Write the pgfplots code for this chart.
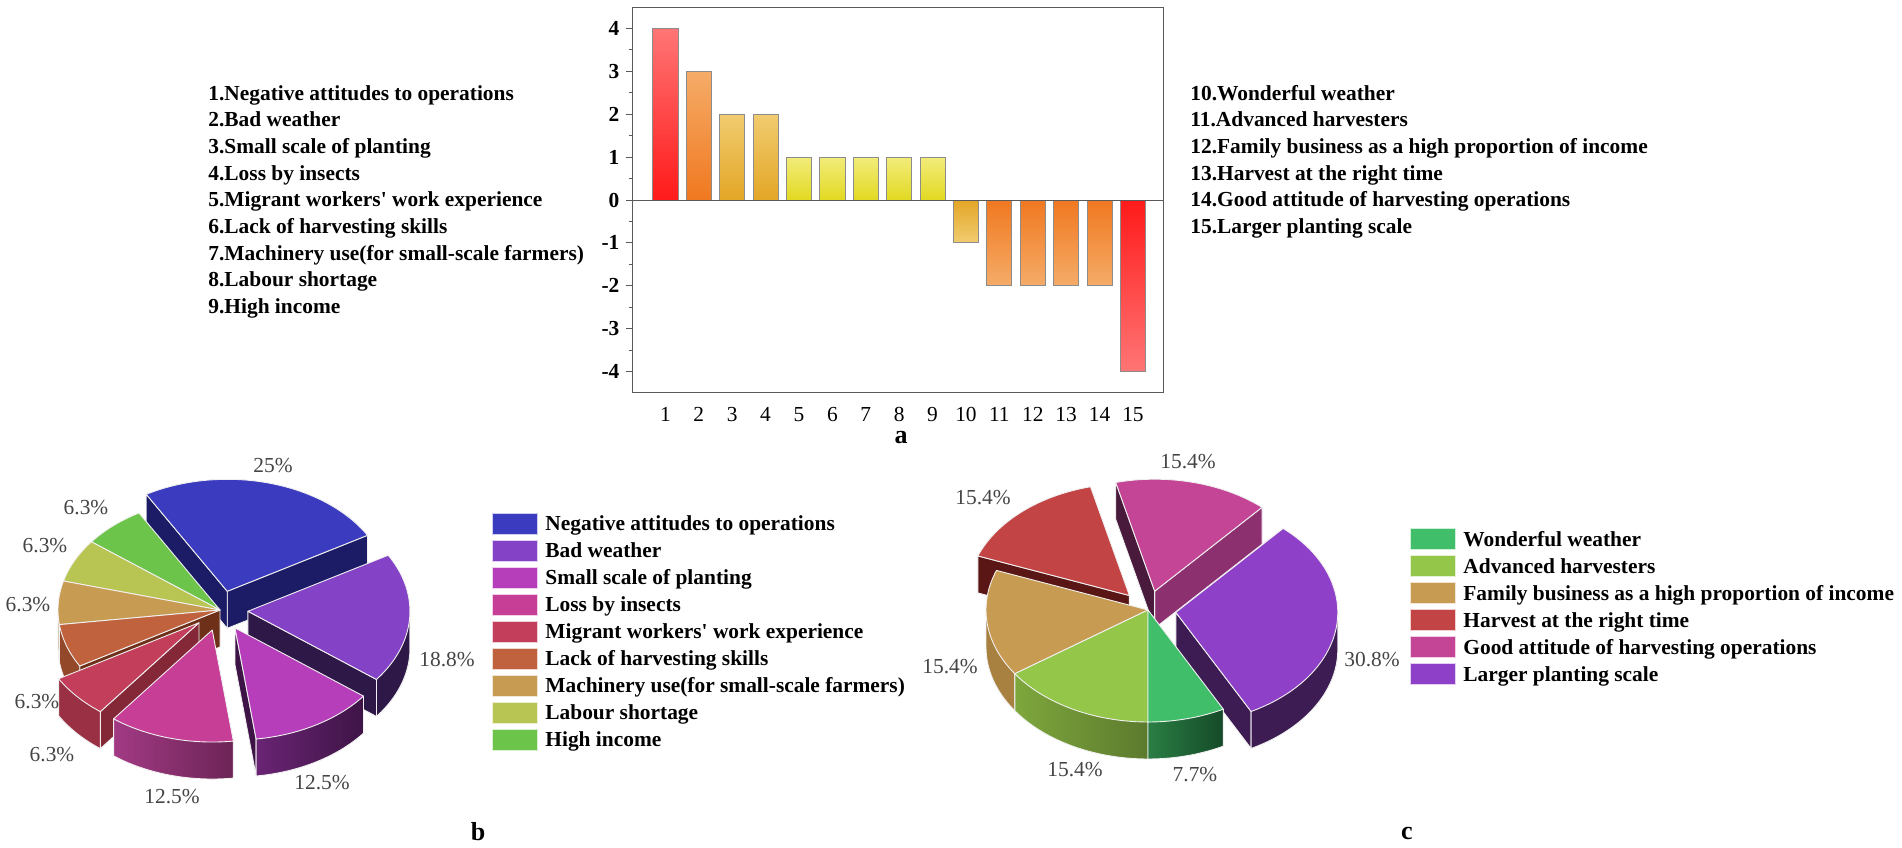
\documentclass[border=0pt]{standalone}
\usepackage{fontspec}
\setmainfont{Liberation Serif}
\usepackage{pgfplots}
\pgfplotsset{compat=1.18}

% bar colours (saturated near zero, light at the far end)
\definecolor{redS}{HTML}{FF1A1A}\definecolor{redL}{HTML}{FF7575}
\definecolor{oraS}{HTML}{F07820}\definecolor{oraL}{HTML}{F5AC68}
\definecolor{golS}{HTML}{E3A626}\definecolor{golL}{HTML}{F1CC70}
\definecolor{yelS}{HTML}{E2D922}\definecolor{yelL}{HTML}{F2EC7A}
% pie b
\definecolor{bBlue}{HTML}{3B3BBF}\definecolor{bBlueD}{HTML}{1C1C66}
\definecolor{bPur}{HTML}{8442C6}\definecolor{bPurD}{HTML}{2E1848}
\definecolor{bMag}{HTML}{B63EBA}\definecolor{bMagL}{HTML}{6A2474}\definecolor{bMagD}{HTML}{3E1446}
\definecolor{bPink}{HTML}{C63E96}\definecolor{bPinkL}{HTML}{A23A84}\definecolor{bPinkD}{HTML}{6C2456}
\definecolor{bCrim}{HTML}{C23E5A}\definecolor{bCrimD}{HTML}{9A3044}\definecolor{bCrimF}{HTML}{842838}
\definecolor{bBrown}{HTML}{C0623E}\definecolor{bBrownD}{HTML}{94482A}\definecolor{bBrownF}{HTML}{6E3018}
\definecolor{bTan}{HTML}{C89B52}\definecolor{bTanD}{HTML}{A27838}
\definecolor{bYel}{HTML}{B8C552}
\definecolor{bGreen}{HTML}{6CC44A}
% pie c
\definecolor{cGreen}{HTML}{40BE6A}\definecolor{cGreenL}{HTML}{2A7E44}\definecolor{cGreenD}{HTML}{154A28}
\definecolor{cLime}{HTML}{94C64A}\definecolor{cLimeL}{HTML}{7EA73C}\definecolor{cLimeD}{HTML}{5C7A2E}
\definecolor{cTan}{HTML}{C89B52}\definecolor{cTanD}{HTML}{A88040}
\definecolor{cRed}{HTML}{C24444}\definecolor{cRedD}{HTML}{5A1515}
\definecolor{cPink}{HTML}{C44495}\definecolor{cPinkF}{HTML}{8C3070}\definecolor{cPinkD}{HTML}{4A1A3C}
\definecolor{cPur}{HTML}{8E40C8}\definecolor{cPurD}{HTML}{3C1C52}
\definecolor{lblgray}{HTML}{444444}

\def\pieRX{162}\def\pieRY{112}\def\pieK{0.6914}\def\pieH{37}
\pgfplotsset{pieedge/.style={draw=white!88!gray, line width=0.45pt, line join=round}}

% #1 cx, #2 cy, #3 a, #4 b, #5 explode, #6 mid angle, #7 style
\newcommand\ptop[7]{%
 \addplot[pieedge,#7,domain=#3:#4,samples=40]
 ({#1+#5*cos(#6)+\pieRX*cos(x)},{#2+#5*\pieK*sin(#6)+\pieRY*sin(x)})
 -- (axis cs:{#1+#5*cos(#6)},{#2+#5*\pieK*sin(#6)}) -- cycle;}
% #1 cx, #2 cy, #3 w1, #4 w2, #5 explode, #6 mid, #7 style
\newcommand\pwall[7]{%
 \addplot[pieedge,#7,domain=#3:#4,samples=40]
 ({#1+#5*cos(#6)+\pieRX*cos(x)},{#2+#5*\pieK*sin(#6)-\pieH+\pieRY*sin(x)})
 -- (axis cs:{#1+#5*cos(#6)+\pieRX*cos(#4)},{#2+#5*\pieK*sin(#6)+\pieRY*sin(#4)})
 -- (axis cs:{#1+#5*cos(#6)+\pieRX*cos(#3)},{#2+#5*\pieK*sin(#6)+\pieRY*sin(#3)}) -- cycle;}
% #1 cx, #2 cy, #3 angle, #4 explode, #5 mid, #6 style
\newcommand\pface[6]{%
 \addplot[pieedge,#6,domain=0:1,samples=2]
 ({#1+#4*cos(#5)+x*\pieRX*cos(#3)},{#2+#4*\pieK*sin(#5)+x*\pieRY*sin(#3)})
 -- (axis cs:{#1+#4*cos(#5)+\pieRX*cos(#3)},{#2+#4*\pieK*sin(#5)+\pieRY*sin(#3)-\pieH})
 -- (axis cs:{#1+#4*cos(#5)},{#2+#4*\pieK*sin(#5)-\pieH}) -- cycle;}
% legend key: #1 x0, #2 x1, #3 yc, #4 colour
\newcommand\pkey[4]{%
 \addplot[fill=#4, draw=white!75!#4, line width=0.4pt] coordinates {(#1,#3-10.5) (#2,#3-10.5) (#2,#3+10.5) (#1,#3+10.5)} -- cycle;}

\newcommand\txtfont{\fontsize{10.7}{13.35}\selectfont}
\newcommand\apo{\textquotesingle}

\begin{document}
\begin{tikzpicture}
\path[use as bounding box] (0,0) rectangle (951pt,423.5pt);

% ---------------- a: bar chart ----------------
\begin{axis}[
 at={(316pt,227pt)}, anchor=south west, scale only axis,
 width=265.5pt, height=193pt,
 xmin=0, xmax=15.9, ymin=-4.5, ymax=4.5,
 axis line style={black!65, line width=0.5pt},
 xtick={1,...,15}, ytick={-4,...,4}, minor y tick num=1,
 xtick style={draw=none}, ytick pos=left, tick align=outside,
 major tick length=2.8pt, minor tick length=1.7pt,
 every tick/.style={black!65, line width=0.5pt},
 /pgf/number format/assume math mode=true,
 xticklabel style={font=\txtfont, yshift=-1pt},
 yticklabel style={font=\bfseries\txtfont},
 clip=false,
]
\addplot[ybar, bar width=0.75, bar shift=0pt, draw=black!45, line width=0.4pt, bottom color=redS, top color=redL] coordinates {(1,4)};
\addplot[ybar, bar width=0.75, bar shift=0pt, draw=black!45, line width=0.4pt, bottom color=oraS, top color=oraL] coordinates {(2,3)};
\addplot[ybar, bar width=0.75, bar shift=0pt, draw=black!45, line width=0.4pt, bottom color=golS, top color=golL] coordinates {(3,2)};
\addplot[ybar, bar width=0.75, bar shift=0pt, draw=black!45, line width=0.4pt, bottom color=golS, top color=golL] coordinates {(4,2)};
\addplot[ybar, bar width=0.75, bar shift=0pt, draw=black!45, line width=0.4pt, bottom color=yelS, top color=yelL] coordinates {(5,1)};
\addplot[ybar, bar width=0.75, bar shift=0pt, draw=black!45, line width=0.4pt, bottom color=yelS, top color=yelL] coordinates {(6,1)};
\addplot[ybar, bar width=0.75, bar shift=0pt, draw=black!45, line width=0.4pt, bottom color=yelS, top color=yelL] coordinates {(7,1)};
\addplot[ybar, bar width=0.75, bar shift=0pt, draw=black!45, line width=0.4pt, bottom color=yelS, top color=yelL] coordinates {(8,1)};
\addplot[ybar, bar width=0.75, bar shift=0pt, draw=black!45, line width=0.4pt, bottom color=yelS, top color=yelL] coordinates {(9,1)};
\addplot[ybar, bar width=0.75, bar shift=0pt, draw=black!45, line width=0.4pt, top color=golS, bottom color=golL] coordinates {(10,-1)};
\addplot[ybar, bar width=0.75, bar shift=0pt, draw=black!45, line width=0.4pt, top color=oraS, bottom color=oraL] coordinates {(11,-2)};
\addplot[ybar, bar width=0.75, bar shift=0pt, draw=black!45, line width=0.4pt, top color=oraS, bottom color=oraL] coordinates {(12,-2)};
\addplot[ybar, bar width=0.75, bar shift=0pt, draw=black!45, line width=0.4pt, top color=oraS, bottom color=oraL] coordinates {(13,-2)};
\addplot[ybar, bar width=0.75, bar shift=0pt, draw=black!45, line width=0.4pt, top color=oraS, bottom color=oraL] coordinates {(14,-2)};
\addplot[ybar, bar width=0.75, bar shift=0pt, draw=black!45, line width=0.4pt, top color=redS, bottom color=redL] coordinates {(15,-4)};
\addplot[black!65, line width=0.5pt] coordinates {(0,0) (15.9,0)};
\end{axis}

% ---------------- b and c: pies (axis in pixel units) ----------------
\begin{axis}[
 at={(0pt,0pt)}, anchor=south west, scale only axis,
 x=0.5pt, y=0.5pt, xmin=0, xmax=1902, ymin=0, ymax=847,
 enlargelimits=false, hide axis, clip=false,
]
% ---- pie b: centre (220,237) ----
% blue 25%  : 30..120
\pface{220}{237}{30}{28}{75}{fill=bBlueD}
\pface{220}{237}{120}{28}{75}{fill=bBlueD}
\ptop{220}{237}{30}{120}{28}{75}{fill=bBlue}
% green 6.25% : 120..142.5
\ptop{220}{237}{120}{142.5}{0}{131.25}{fill=bGreen}
% yellow 6.25% : 142.5..165
\ptop{220}{237}{142.5}{165}{0}{153.75}{fill=bYel}
% tan 6.25% : 165..187.5
\pwall{220}{237}{180}{187.5}{0}{176.25}{fill=bTanD}
\ptop{220}{237}{165}{187.5}{0}{176.25}{fill=bTan}
% purple 18.75% : -37.5..30
\pface{220}{237}{-37.5}{28}{-3.75}{fill=bPurD}
\pwall{220}{237}{-37.5}{0}{28}{-3.75}{fill=bPurD}
\ptop{220}{237}{-37.5}{30}{28}{-3.75}{fill=bPur}
% brown 6.25% : -172.5..-150
\pface{220}{237}{-150}{0}{-161.25}{fill=bBrownF}
\pwall{220}{237}{-172.5}{-150}{0}{-161.25}{fill=bBrownD}
\ptop{220}{237}{-172.5}{-150}{0}{-161.25}{fill=bBrown}
% crimson 6.25% : -150..-127.5
\pface{220}{237}{-127.5}{28}{-138.75}{fill=bCrimF}
\pwall{220}{237}{-150}{-127.5}{28}{-138.75}{fill=bCrimD}
\ptop{220}{237}{-150}{-127.5}{28}{-138.75}{fill=bCrim}
% magenta 12.5% : -82.5..-37.5
\pface{220}{237}{-82.5}{30}{-60}{fill=bMagD}
\pwall{220}{237}{-82.5}{-37.5}{30}{-60}{left color=bMagL, right color=bMagD}
\ptop{220}{237}{-82.5}{-37.5}{30}{-60}{fill=bMag}
% pink 12.5% : -127.5..-82.5
\pwall{220}{237}{-127.5}{-82.5}{30}{-105}{left color=bPinkL, right color=bPinkD}
\ptop{220}{237}{-127.5}{-82.5}{30}{-105}{fill=bPink}

% ---- pie c: centre (1148,237) ----
% pink 15.4% : 48.5..103.9
\pface{1148}{237}{48.5}{28}{76.2}{fill=cPinkF}
\pface{1148}{237}{103.9}{28}{76.2}{fill=cPinkD}
\ptop{1148}{237}{48.5}{103.9}{28}{76.2}{fill=cPink}
% red 15.4% : 103.9..159.3
\pface{1148}{237}{159.3}{28}{131.6}{fill=cRedD}
\ptop{1148}{237}{103.9}{159.3}{28}{131.6}{fill=cRed}
% purple 30.8% : -62.3..48.5
\pface{1148}{237}{-62.3}{28}{-6.9}{fill=cPurD}
\pwall{1148}{237}{-62.3}{0}{28}{-6.9}{fill=cPurD}
\ptop{1148}{237}{-62.3}{48.5}{28}{-6.9}{fill=cPur}
% tan 15.4% : 159.3..214.7
\pwall{1148}{237}{180}{214.7}{0}{187}{fill=cTanD}
\ptop{1148}{237}{159.3}{214.7}{0}{187}{fill=cTan}
% lime 15.4% : 214.7..270
\pwall{1148}{237}{214.7}{270}{0}{242.35}{left color=cLimeL, right color=cLimeD}
\ptop{1148}{237}{214.7}{270}{0}{242.35}{fill=cLime}
% green 7.7% : 270..297.7
\pwall{1148}{237}{270}{297.7}{0}{283.85}{left color=cGreenL, right color=cGreenD}
\ptop{1148}{237}{270}{297.7}{0}{283.85}{fill=cGreen}

% ---- legend keys b ----
\pkey{492}{537}{323.5}{bBlue}
\pkey{492}{537}{296.5}{bPur}
\pkey{492}{537}{269.5}{bMag}
\pkey{492}{537}{242.5}{bPink}
\pkey{492}{537}{215.5}{bCrim}
\pkey{492}{537}{188.5}{bBrown}
\pkey{492}{537}{161.5}{bTan}
\pkey{492}{537}{134.5}{bYel}
\pkey{492}{537}{107.5}{bGreen}
% ---- legend keys c ----
\pkey{1410}{1455}{308}{cGreen}
\pkey{1410}{1455}{281}{cLime}
\pkey{1410}{1455}{254}{cTan}
\pkey{1410}{1455}{227}{cRed}
\pkey{1410}{1455}{200}{cPink}
\pkey{1410}{1455}{173}{cPur}
\end{axis}

% ---------------- texts (pixel units) ----------------
\begin{scope}[x=0.5pt, y=0.5pt]
\tikzset{lst/.style={anchor=base west, inner sep=0pt, font=\bfseries\txtfont},
         pct/.style={inner sep=0pt, font=\txtfont, text=lblgray}}
\foreach \t [count=\i from 0] in {{1.Negative attitudes to operations},{2.Bad weather},{3.Small scale of planting},{4.Loss by insects},{5.Migrant workers\apo\ work experience},{6.Lack of harvesting skills},{7.Machinery use(for small-scale farmers)},{8.Labour shortage},{9.High income}}
  \node[lst] at (208, 746.9-26.7*\i) {\t};
\foreach \t [count=\i from 0] in {{10.Wonderful weather},{11.Advanced harvesters},{12.Family business as a high proportion of income},{13.Harvest at the right time},{14.Good attitude of harvesting operations},{15.Larger planting scale}}
  \node[lst] at (1190, 746.9-26.7*\i) {\t};
\foreach \t [count=\i from 0] in {{Negative attitudes to operations},{Bad weather},{Small scale of planting},{Loss by insects},{Migrant workers\apo\ work experience},{Lack of harvesting skills},{Machinery use(for small-scale farmers)},{Labour shortage},{High income}}
  \node[lst] at (545, 316.4-27*\i) {\t};
\foreach \t [count=\i from 0] in {{Wonderful weather},{Advanced harvesters},{Family business as a high proportion of income},{Harvest at the right time},{Good attitude of harvesting operations},{Larger planting scale}}
  \node[lst] at (1463, 300.9-27*\i) {\t};
% percentage labels b
\node[pct] at (273,381) {25\%};
\node[pct] at (447,187) {18.8\%};
\node[pct] at (322,64) {12.5\%};
\node[pct] at (172,50) {12.5\%};
\node[pct] at (86,339) {6.3\%};
\node[pct] at (45,301) {6.3\%};
\node[pct] at (28,242) {6.3\%};
\node[pct] at (37,145) {6.3\%};
\node[pct] at (52,92) {6.3\%};
% percentage labels c
\node[pct] at (983,349) {15.4\%};
\node[pct] at (1188,385) {15.4\%};
\node[pct] at (950,180) {15.4\%};
\node[pct] at (1075,77) {15.4\%};
\node[pct] at (1195,72) {7.7\%};
\node[pct] at (1372,187) {30.8\%};
% panel letters
\node[font=\bfseries\fontsize{13}{14}\selectfont, inner sep=0pt] at (901,409) {a};
\node[font=\bfseries\fontsize{13}{14}\selectfont, inner sep=0pt] at (478,15) {b};
\node[font=\bfseries\fontsize{13}{14}\selectfont, inner sep=0pt] at (1407,14) {c};
\end{scope}
\end{tikzpicture}
\end{document}
